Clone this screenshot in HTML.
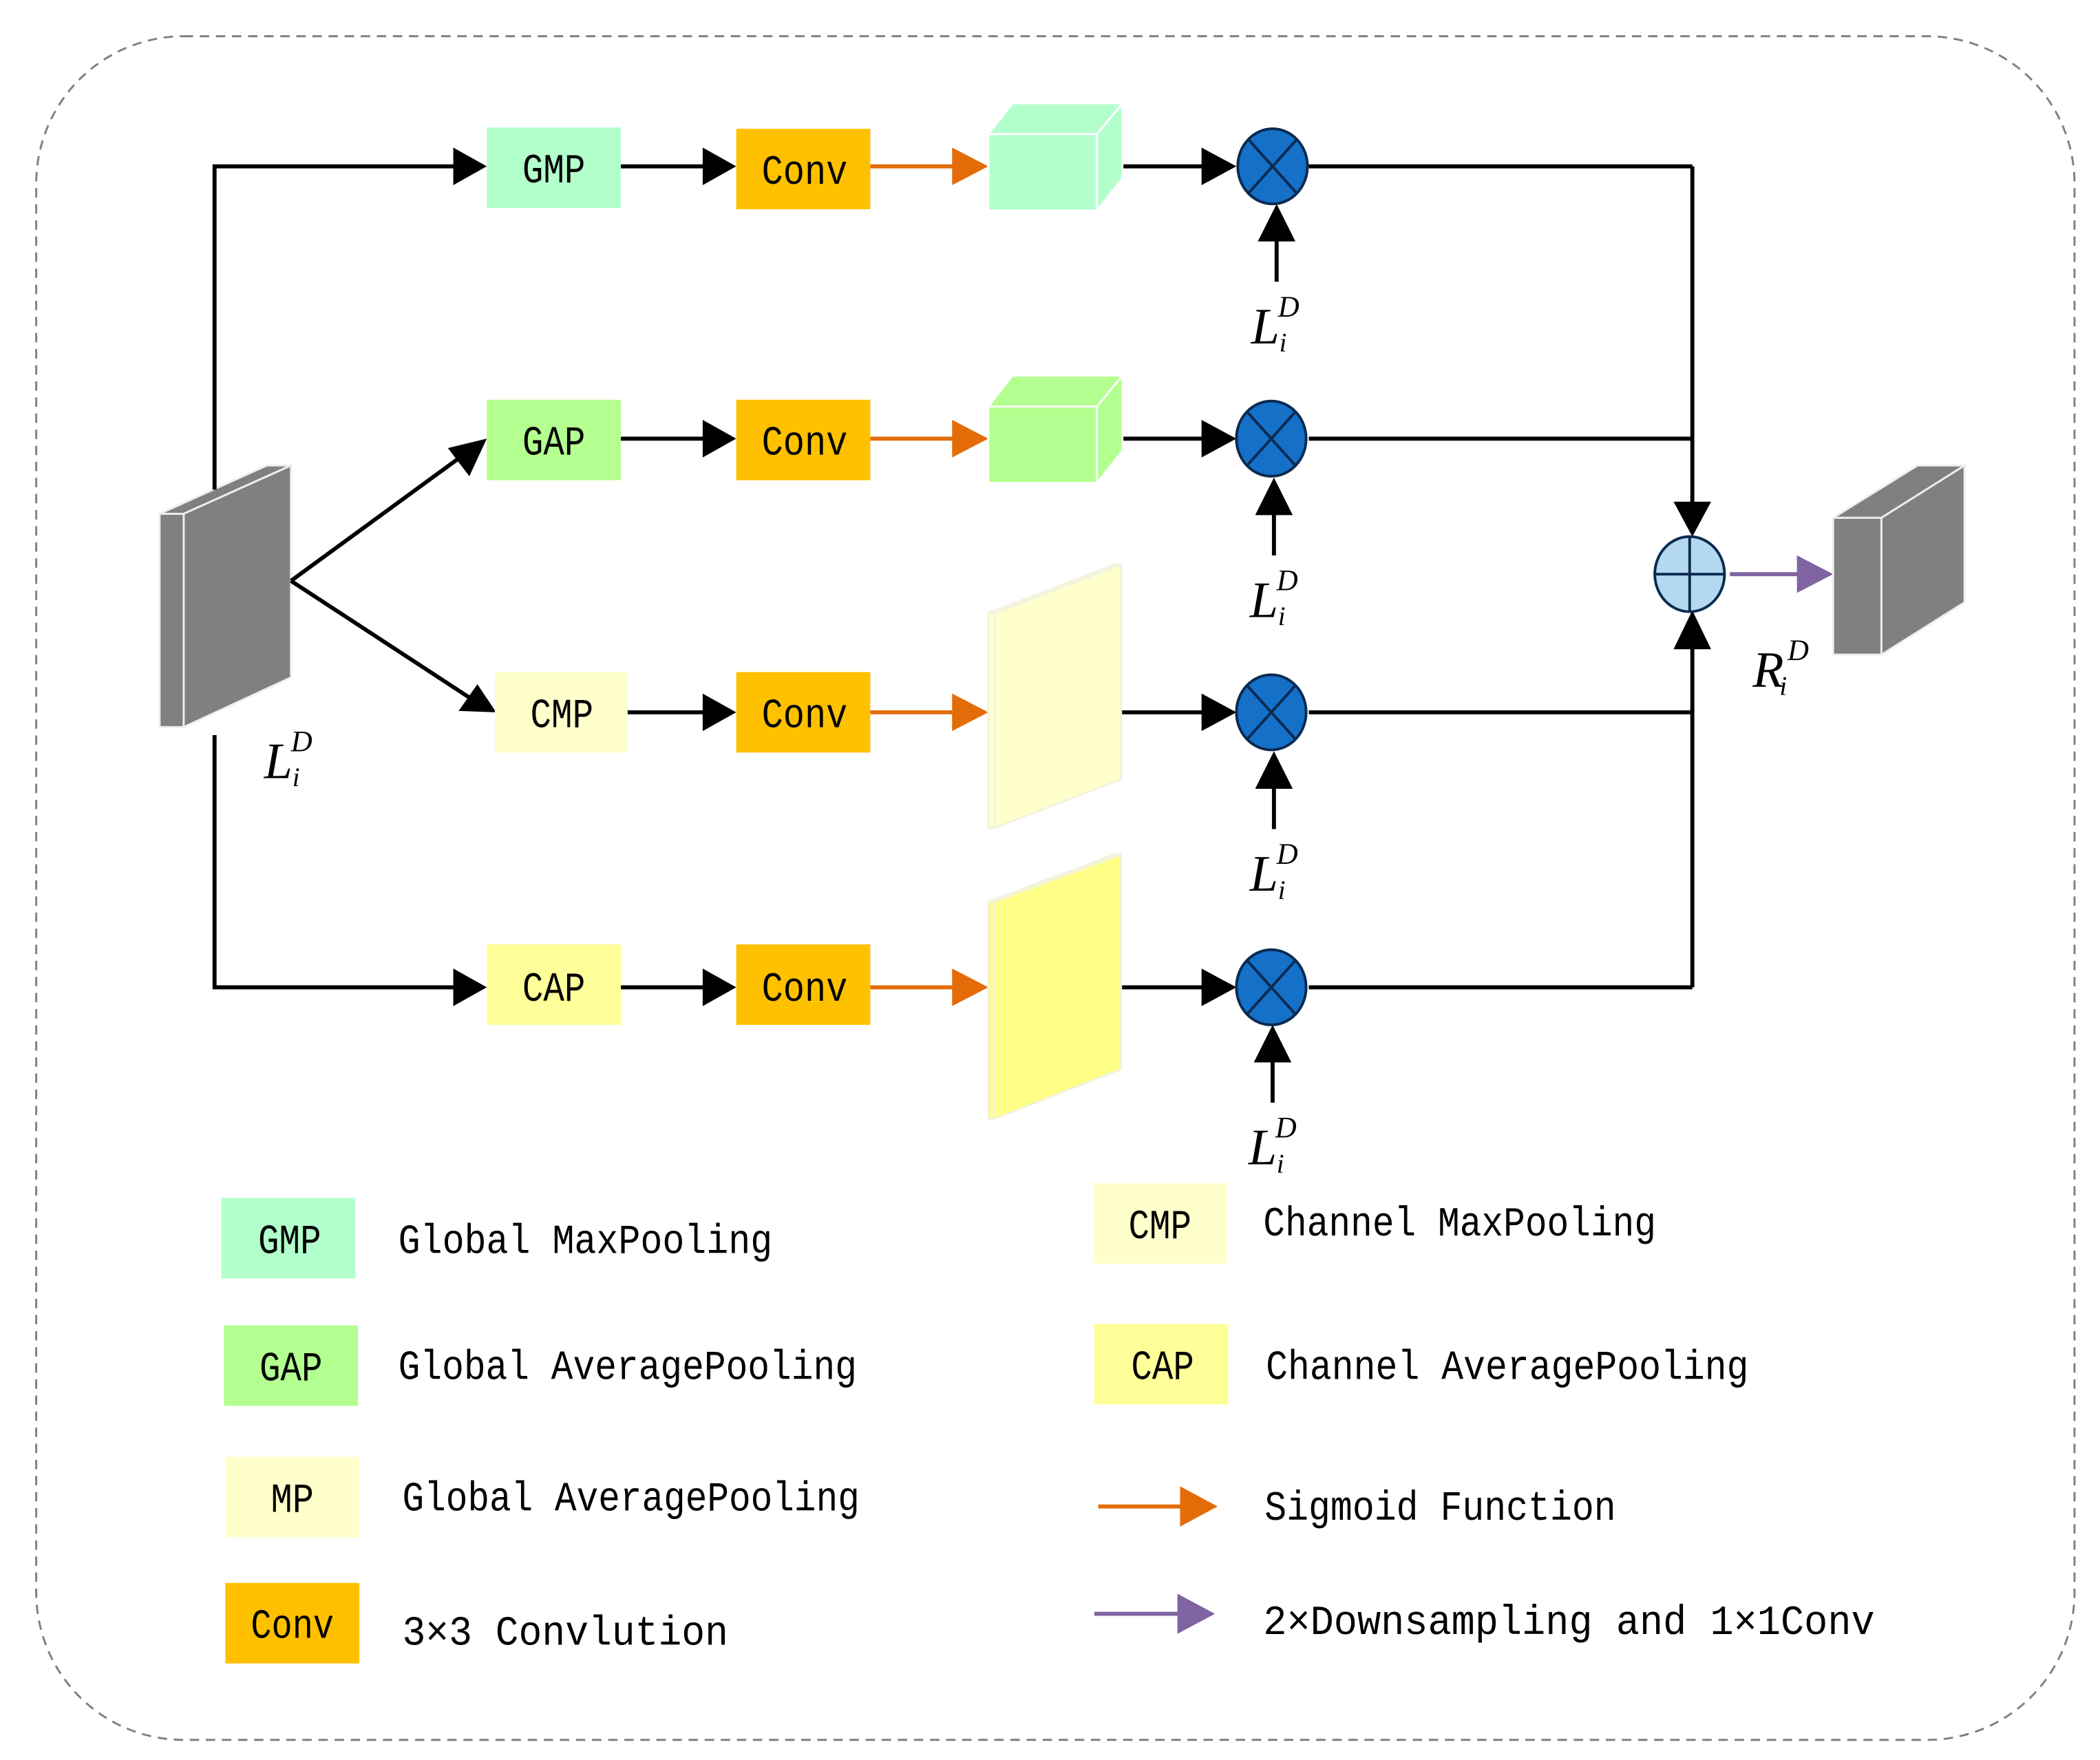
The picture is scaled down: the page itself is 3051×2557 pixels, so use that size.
<!DOCTYPE html>
<html><head><meta charset="utf-8"><style>
html,body{margin:0;padding:0;background:#fff;}
svg{display:block;}
.t{font-family:"Liberation Mono","DejaVu Sans Mono",monospace;font-size:31px;fill:#000;}
.b{font-family:"Liberation Mono","DejaVu Sans Mono",monospace;font-size:31px;fill:#000;text-anchor:middle;}
.m{font-family:"Liberation Serif",serif;font-style:italic;fill:#000;}
</style></head><body>
<svg width="3051" height="2557" viewBox="0 0 1566 1312" preserveAspectRatio="none" xmlns="http://www.w3.org/2000/svg">
<rect x="27" y="27" width="1520" height="1270" rx="110" ry="110" fill="none" stroke="#808080" stroke-width="1.5" stroke-dasharray="7,5"/>

<polygon points="119,383 137,383 217,347 199,347" fill="#808080" stroke="#eee" stroke-width="1.5"/>
<rect x="119" y="383" width="18" height="159" fill="#808080" stroke="#eee" stroke-width="1.5"/>
<polygon points="137,383 217,347 217,505 137,542" fill="#808080" stroke="#eee" stroke-width="1.5"/>

<g stroke="#000" stroke-width="3" fill="none">
<polyline points="160,365 160,124 338,124"/>
<polyline points="160,548 160,736 338,736"/>
<line x1="217" y1="433" x2="343" y2="341"/>
<line x1="217" y1="433" x2="350" y2="520"/>
<line x1="463" y1="124" x2="525" y2="124"/>
<line x1="463" y1="327" x2="525" y2="327"/>
<line x1="468" y1="531" x2="525" y2="531"/>
<line x1="463" y1="736" x2="525" y2="736"/>
<line x1="836" y1="124" x2="897" y2="124"/>
<line x1="836" y1="327" x2="897" y2="327"/>
<line x1="836" y1="531" x2="897" y2="531"/>
<line x1="836" y1="736" x2="897" y2="736"/>
<line x1="976" y1="124" x2="1262" y2="124"/>
<line x1="976" y1="327" x2="1262" y2="327"/>
<line x1="976" y1="531" x2="1262" y2="531"/>
<line x1="976" y1="736" x2="1262" y2="736"/>
<line x1="1262" y1="124" x2="1262" y2="375"/>
<line x1="1262" y1="736" x2="1262" y2="482"/>
<line x1="952" y1="210" x2="952" y2="178"/>
<line x1="950" y1="414" x2="950" y2="382"/>
<line x1="950" y1="618" x2="950" y2="586"/>
<line x1="949" y1="822" x2="949" y2="790"/>
</g>
<g fill="#000">
<polygon points="338,110 363,124 338,138"/>
<polygon points="338,722 363,736 338,750"/>
<polygon points="363,327 334,334 350,355"/>
<polygon points="370,531 342,530 356,510"/>
<polygon points="524,110 549,124 524,138"/>
<polygon points="524,313 549,327 524,341"/>
<polygon points="524,517 549,531 524,545"/>
<polygon points="524,722 549,736 524,750"/>
<polygon points="896,110 922,124 896,138"/>
<polygon points="896,313 922,327 896,341"/>
<polygon points="896,517 922,531 896,545"/>
<polygon points="896,722 922,736 896,750"/>
<polygon points="938,180 952,152 966,180"/>
<polygon points="936,384 950,356 964,384"/>
<polygon points="936,588 950,560 964,588"/>
<polygon points="935,792 949,764 963,792"/>
<polygon points="1248,374 1262,400 1276,374"/>
<polygon points="1248,484 1262,455 1276,484"/>
</g>

<rect x="363" y="95" width="100" height="60" fill="#b3ffcc"/>
<rect x="363" y="298" width="100" height="60" fill="#b3ff8f"/>
<rect x="369" y="501" width="99" height="60" fill="#ffffcc"/>
<rect x="363" y="704" width="100" height="60" fill="#ffff99"/>
<text class="b" x="413" y="136" textLength="47" lengthAdjust="spacingAndGlyphs">GMP</text>
<text class="b" x="413" y="339" textLength="47" lengthAdjust="spacingAndGlyphs">GAP</text>
<text class="b" x="419" y="542" textLength="47" lengthAdjust="spacingAndGlyphs">CMP</text>
<text class="b" x="413" y="746" textLength="47" lengthAdjust="spacingAndGlyphs">CAP</text>
<g fill="#ffc000">
<rect x="549" y="96" width="100" height="60"/>
<rect x="549" y="298" width="100" height="60"/>
<rect x="549" y="501" width="100" height="60"/>
<rect x="549" y="704" width="100" height="60"/>
</g>
<text class="b" x="600" y="137" textLength="64" lengthAdjust="spacingAndGlyphs">Conv</text>
<text class="b" x="600" y="339" textLength="64" lengthAdjust="spacingAndGlyphs">Conv</text>
<text class="b" x="600" y="542" textLength="64" lengthAdjust="spacingAndGlyphs">Conv</text>
<text class="b" x="600" y="746" textLength="64" lengthAdjust="spacingAndGlyphs">Conv</text>

<g stroke="#e36c09" stroke-width="3"><line x1="649" y1="124" x2="712" y2="124"/><line x1="649" y1="327" x2="712" y2="327"/><line x1="649" y1="531" x2="712" y2="531"/><line x1="649" y1="736" x2="712" y2="736"/></g>
<g fill="#e36c09">
<polygon points="710,110 737,124 710,138"/><polygon points="710,313 737,327 710,341"/><polygon points="710,517 737,531 710,545"/><polygon points="710,722 737,736 710,750"/>
</g>

<g stroke="#fff" stroke-width="1.5" fill="#b3ffcc">
<polygon points="737,100 755,77 837,77 818,100"/><rect x="737" y="100" width="81" height="57"/><polygon points="818,100 837,77 837,133 818,157"/>
</g>
<g stroke="#fff" stroke-width="1.5" fill="#b3ff8f">
<polygon points="737,303 755,280 837,280 818,303"/><rect x="737" y="303" width="81" height="57"/><polygon points="818,303 837,280 837,336 818,360"/>
</g>
<g stroke="#f2f2e0" stroke-width="1.5" fill="#ffffcc">
<polygon points="737,457 742,457 836,421 831,421"/><rect x="737" y="457" width="5" height="160"/><polygon points="742,457 836,421 836,581 742,617"/>
</g>
<g stroke="#f2f2e0" stroke-width="1.5" fill="#ffff88">
<polygon points="737,672 742,672 836,637 831,637"/><rect x="737" y="672" width="5" height="162"/><polygon points="742,672 836,637 836,797 742,834"/>
</g>

<g stroke="#0a2a50" stroke-width="2">
<g transform="translate(949,124)"><ellipse rx="26" ry="28" fill="#1570c8"/><line x1="-18" y1="-20" x2="18" y2="20"/><line x1="18" y1="-20" x2="-18" y2="20"/></g>
<g transform="translate(948,327)"><ellipse rx="26" ry="28" fill="#1570c8"/><line x1="-18" y1="-20" x2="18" y2="20"/><line x1="18" y1="-20" x2="-18" y2="20"/></g>
<g transform="translate(948,531)"><ellipse rx="26" ry="28" fill="#1570c8"/><line x1="-18" y1="-20" x2="18" y2="20"/><line x1="18" y1="-20" x2="-18" y2="20"/></g>
<g transform="translate(948,736)"><ellipse rx="26" ry="28" fill="#1570c8"/><line x1="-18" y1="-20" x2="18" y2="20"/><line x1="18" y1="-20" x2="-18" y2="20"/></g>
<g transform="translate(1260,428)"><ellipse rx="26" ry="28" fill="#b4d8f0"/><line x1="-26" y1="0" x2="26" y2="0"/><line x1="0" y1="-28" x2="0" y2="28"/></g>
</g>

<line x1="1290" y1="428" x2="1342" y2="428" stroke="#8064a2" stroke-width="3"/>
<polygon points="1340,414 1367,428 1340,442" fill="#8064a2"/>

<polygon points="1367,386 1403,386 1465,347 1430,347" fill="#808080" stroke="#eee" stroke-width="1.5"/>
<rect x="1367" y="386" width="36" height="102" fill="#808080" stroke="#eee" stroke-width="1.5"/>
<polygon points="1403,386 1465,347 1465,449 1403,488" fill="#808080" stroke="#eee" stroke-width="1.5"/>

<g class="m">
<text x="933" y="256" font-size="38">L</text><text x="953" y="236" font-size="22">D</text><text x="954" y="262" font-size="20">i</text>
<text x="932" y="460" font-size="38">L</text><text x="952" y="440" font-size="22">D</text><text x="953" y="466" font-size="20">i</text>
<text x="932" y="664" font-size="38">L</text><text x="952" y="644" font-size="22">D</text><text x="953" y="670" font-size="20">i</text>
<text x="931" y="868" font-size="38">L</text><text x="951" y="848" font-size="22">D</text><text x="952" y="874" font-size="20">i</text>
<text x="197" y="580" font-size="38">L</text><text x="217" y="560" font-size="22">D</text><text x="218" y="586" font-size="20">i</text>
<text x="1307" y="512" font-size="38">R</text><text x="1333" y="492" font-size="22">D</text><text x="1327" y="518" font-size="20">i</text>
</g>

<rect x="165" y="893" width="100" height="60" fill="#b3ffcc"/>
<rect x="167" y="988" width="100" height="60" fill="#b3ff8f"/>
<rect x="168" y="1086" width="100" height="60" fill="#ffffcc"/>
<rect x="168" y="1180" width="100" height="60" fill="#ffc000"/>
<rect x="815" y="882" width="100" height="60" fill="#ffffcc"/>
<rect x="816" y="987" width="100" height="60" fill="#ffff99"/>
<text class="b" x="216" y="934" textLength="47" lengthAdjust="spacingAndGlyphs">GMP</text>
<text class="b" x="217" y="1029" textLength="47" lengthAdjust="spacingAndGlyphs">GAP</text>
<text class="b" x="218" y="1127" textLength="32" lengthAdjust="spacingAndGlyphs">MP</text>
<text class="b" x="218" y="1221" textLength="62" lengthAdjust="spacingAndGlyphs">Conv</text>
<text class="b" x="865" y="923" textLength="47" lengthAdjust="spacingAndGlyphs">CMP</text>
<text class="b" x="867" y="1028" textLength="47" lengthAdjust="spacingAndGlyphs">CAP</text>

<text class="t" x="297" y="934" textLength="279" lengthAdjust="spacingAndGlyphs">Global MaxPooling</text>
<text class="t" x="297" y="1028" textLength="342" lengthAdjust="spacingAndGlyphs">Global AveragePooling</text>
<text class="t" x="300" y="1126" textLength="341" lengthAdjust="spacingAndGlyphs">Global AveragePooling</text>
<text class="t" x="300" y="1226" textLength="243" lengthAdjust="spacingAndGlyphs">3×3 Convlution</text>
<text class="t" x="942" y="921" textLength="293" lengthAdjust="spacingAndGlyphs">Channel MaxPooling</text>
<text class="t" x="944" y="1028" textLength="360" lengthAdjust="spacingAndGlyphs">Channel AveragePooling</text>
<text class="t" x="943" y="1133" textLength="262" lengthAdjust="spacingAndGlyphs">Sigmoid Function</text>
<text class="t" x="942" y="1218" textLength="456" lengthAdjust="spacingAndGlyphs">2×Downsampling and 1×1Conv</text>

<line x1="819" y1="1123" x2="882" y2="1123" stroke="#e36c09" stroke-width="3"/>
<polygon points="880,1108 908,1123 880,1138" fill="#e36c09"/>
<line x1="816" y1="1203" x2="880" y2="1203" stroke="#8064a2" stroke-width="3"/>
<polygon points="878,1188 906,1203 878,1218" fill="#8064a2"/>
</svg>
</body></html>
